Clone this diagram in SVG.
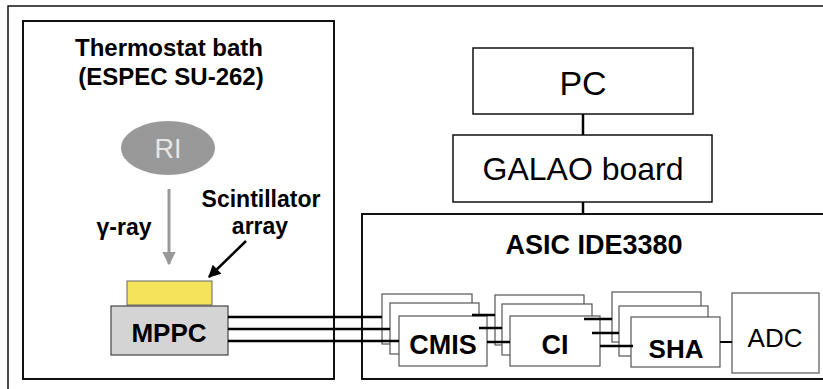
<svg xmlns="http://www.w3.org/2000/svg" width="823" height="389" viewBox="0 0 823 389">
<defs>
<style>
.frame{fill:none;stroke:#111;stroke-width:1.5}
.big{fill:none;stroke:#111;stroke-width:2}
.box{fill:#fff;stroke:#111;stroke-width:1.5}
.sbox{fill:#fff;stroke:#555;stroke-width:1.2}
.wire{stroke:#000;stroke-width:2.5;fill:none}
.t{font-family:"Liberation Sans",Arial,Helvetica,sans-serif;text-anchor:middle;fill:#000}
.b{font-weight:bold}
</style>
<marker id="ahGray" viewBox="0 0 10 10" refX="9" refY="5" markerWidth="4.5" markerHeight="4.5" orient="auto" markerUnits="strokeWidth">
<path d="M0,0 L10,5 L0,10 Z" fill="#999"/>
</marker>
<marker id="ahBlack" viewBox="0 0 10 10" refX="9" refY="5" markerWidth="6" markerHeight="5" orient="auto" markerUnits="strokeWidth">
<path d="M0,0 L10,5 L0,10 Z" fill="#000"/>
</marker>
</defs>
<rect width="823" height="389" fill="#fff"/>
<rect class="frame" x="8" y="6" width="830" height="400"/>

<g id="thermostat">
<rect class="big" x="23" y="21" width="311" height="358"/>
<text class="t b" x="169" y="56" font-size="24">Thermostat bath</text>
<text class="t b" x="171" y="85" font-size="24">(ESPEC SU-262)</text>
</g>

<g id="ri">
<ellipse cx="168" cy="148" rx="47" ry="27" fill="#999"/>
<text class="t" x="168" y="158" font-size="27" style="fill:#e6e6e6">RI</text>
</g>

<g id="gamma">
<text class="t b" x="124" y="235" font-size="23">γ-ray</text>
</g>

<g id="scintillator-label">
<text class="t b" x="261" y="207" font-size="23">Scintillator</text>
<text class="t b" x="260" y="234" font-size="23">array</text>
</g>

<g id="scintillator">
<rect x="127" y="281" width="85" height="24" fill="#f5e35b" stroke="#666" stroke-width="1"/>
</g>

<g id="mppc">
<rect x="111" y="306" width="117" height="49" fill="#d4d4d4" stroke="#444" stroke-width="1.2"/>
<text class="t b" x="169" y="342" font-size="26">MPPC</text>
</g>

<g id="pc">
<rect class="box" x="473" y="48" width="220" height="66"/>
<text class="t" x="583" y="95" font-size="34">PC</text>
</g>

<g id="galao">
<rect class="box" x="453" y="135" width="259" height="67"/>
<text class="t" x="583" y="180" font-size="32">GALAO board</text>
</g>

<g id="asic">
<rect class="big" x="362" y="214" width="470" height="165"/>
<text class="t b" x="594" y="254" font-size="27">ASIC IDE3380</text>
</g>

<g id="cmis">
<rect class="sbox" x="382" y="294" width="90" height="50"/>
<rect class="sbox" x="390" y="303" width="89" height="51"/>
<rect class="sbox" x="399" y="316" width="88" height="50"/>
<text class="t b" x="443" y="354" font-size="27">CMIS</text>
</g>

<g id="ci">
<rect class="sbox" x="495" y="295" width="89" height="50"/>
<rect class="sbox" x="502" y="304" width="90" height="51"/>
<rect class="sbox" x="510" y="316" width="90" height="50"/>
<text class="t b" x="555" y="354" font-size="27">CI</text>
</g>

<g id="sha">
<rect class="sbox" x="612" y="292" width="89" height="50"/>
<rect class="sbox" x="619" y="306" width="89" height="50"/>
<rect class="sbox" x="631" y="317" width="89" height="50"/>
<text class="t b" x="676" y="358" font-size="26">SHA</text>
</g>

<g id="adc">
<rect class="sbox" x="732" y="293" width="87" height="80"/>
<text class="t" x="775" y="347" font-size="26">ADC</text>
</g>

<g id="connectors">
<line x1="583" y1="114" x2="583" y2="135" stroke="#000" stroke-width="2.5"/>
<line x1="583" y1="202" x2="583" y2="214" stroke="#000" stroke-width="2.5"/>
<line x1="169" y1="189" x2="169" y2="264" stroke="#999" stroke-width="3" marker-end="url(#ahGray)"/>
<line x1="246" y1="241" x2="209" y2="277" stroke="#000" stroke-width="2.5" marker-end="url(#ahBlack)"/>
<path class="wire" d="M228,317 H382 M228,329 H390 M228,341 H399"/>
<path class="wire" d="M472,315 H495 M479,328 H502 M487,342 H510"/>
<path class="wire" d="M584,319 H612 M592,333 H619 M600,346 H633"/>
<line x1="720" y1="342" x2="732" y2="342" stroke="#000" stroke-width="2"/>
</g>
</svg>
